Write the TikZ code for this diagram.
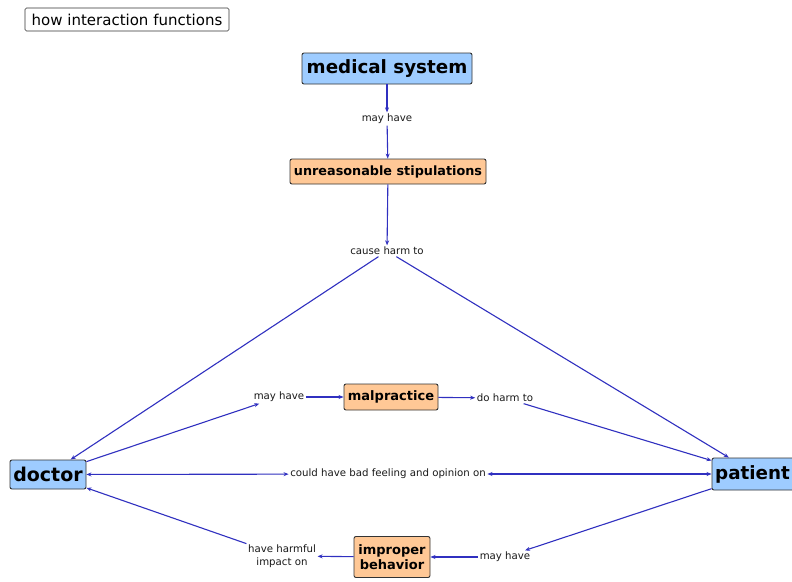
\documentclass[tikz,border=0pt]{standalone}
\usepackage{fontspec}
\setmainfont{DejaVu Sans}
\usetikzlibrary{arrows.meta}
\definecolor{conceptblue}{RGB}{158,204,255}
\definecolor{conceptorange}{RGB}{255,200,150}
\definecolor{linkblue}{RGB}{48,48,192}
\definecolor{phrasegray}{RGB}{25,25,25}
\begin{document}
\begin{tikzpicture}[x=1pt,y=-1pt,
  concept/.style={draw=black!80, line width=0.9pt, rounded corners=2pt, inner sep=0pt,
    align=center, font=\bfseries},
  bluebox/.style={concept, fill=conceptblue},
  orangebox/.style={concept, fill=conceptorange},
  phrase/.style={inner sep=1.5pt, align=center, text=phrasegray, font=\fontsize{10.2}{12}\selectfont},
  titlebox/.style={draw=black!80, line width=0.7pt, rounded corners=1.5pt, fill=white,
    inner sep=0pt, font=\fontsize{15}{17}\selectfont},
  link/.style={draw=linkblue, line width=1.1pt, -{Stealth[length=5pt,width=4pt]}},
  twoway/.style={draw=linkblue, line width=1.1pt, {Stealth[length=5pt,width=4pt]}-{Stealth[length=5pt,width=4pt]}}
]
\useasboundingbox (0,0) rectangle (792,581);
\fill[white] (0,0) rectangle (792,581);

% heading
\node[titlebox, minimum width=204pt, minimum height=23pt] (title) at (127,19.5) {how interaction functions};

% concepts
\node[bluebox, minimum width=170pt, minimum height=31pt, font=\bfseries\fontsize{18.3}{21}\selectfont] (medsys) at (387,68.5) {medical system};
\node[orangebox, minimum width=196pt, minimum height=25pt, font=\bfseries\fontsize{12.8}{14}\selectfont] (stip) at (388,171.5) {unreasonable stipulations};
\node[orangebox, minimum width=94pt, minimum height=26pt, font=\bfseries\fontsize{13}{15}\selectfont] (malp) at (391,397) {malpractice};
\node[bluebox, minimum width=76pt, minimum height=29pt, font=\bfseries\fontsize{19}{22}\selectfont] (doctor) at (48,474.5) {doctor};
\node[bluebox, minimum width=88pt, minimum height=32pt, font=\bfseries\fontsize{18.3}{22}\selectfont] (patient) at (756,474) {patient\hspace*{7pt}};
\node[orangebox, minimum width=76pt, minimum height=41pt, font=\bfseries\fontsize{13}{15.5}\selectfont] (improper) at (392,557) {improper\\behavior};

% linking phrases
\node[phrase] (mayhave1) at (387,119) {may have};
\node[phrase] (causeharm) at (387,251) {cause harm to};
\node[phrase] (mayhave2) at (279,397) {may have};
\node[phrase] (doharm) at (505,398) {do harm to};
\node[phrase] (opinion) at (388,474) {could have bad feeling and opinion on};
\node[phrase] (mayhave3) at (505,557) {may have};
\node[phrase, font=\fontsize{10.2}{12.5}\selectfont] (harmful) at (282,556) {have harmful\\impact on};

% connections
\draw[link] (medsys) -- (mayhave1);
\draw[link] (mayhave1) -- (stip);
\draw[link] (stip) -- (causeharm);
\draw[link] (causeharm) -- (doctor);
\draw[link] (causeharm) -- (patient);
\draw[link] (doctor) -- (mayhave2);
\draw[link] (mayhave2) -- (malp);
\draw[link] (malp) -- (doharm);
\draw[link] (doharm) -- (patient);
\draw[twoway] (doctor) -- (opinion);
\draw[twoway] (opinion) -- (patient);
\draw[link] (patient) -- (mayhave3);
\draw[link] (mayhave3) -- (improper);
\draw[link] (improper) -- (harmful);
\draw[link] (harmful) -- (doctor);
\end{tikzpicture}
\end{document}
